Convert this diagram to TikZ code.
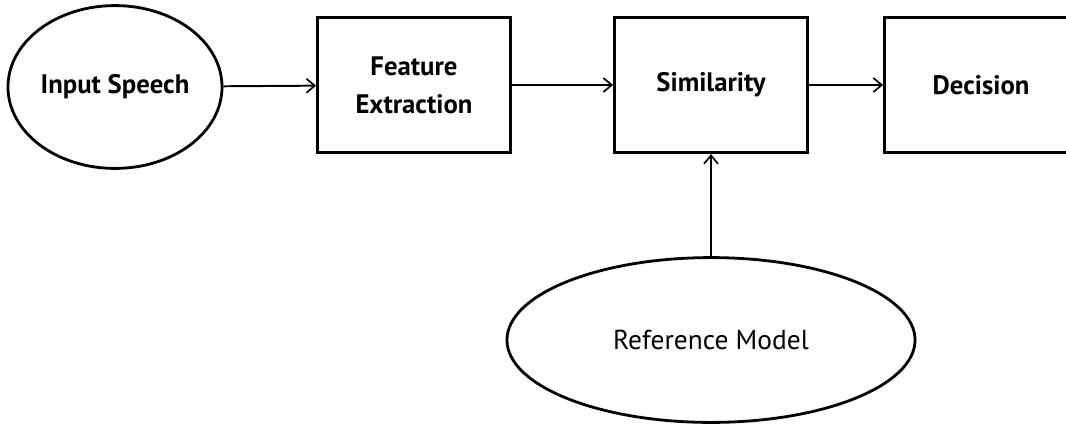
\documentclass[tikz,border=0pt]{standalone}
\usepackage{fontspec}
\setmainfont{PT Sans}
\usetikzlibrary{shapes.geometric,arrows.meta}
\begin{document}
\begin{tikzpicture}[x=0.025cm,y=-0.025cm,
    >={Straight Barb[length=6pt,width=10pt,line width=1.2pt]},
    blockbox/.style={draw,line width=2.1pt,minimum width=4.82cm,minimum height=3.38cm,font=\fontsize{19}{27}\selectfont\bfseries,align=center},
    roundbox/.style={draw,ellipse,line width=2pt,inner sep=0pt},
    flow/.style={->,line width=1.4pt}]
                \useasboundingbox (0,0) rectangle (1066,423);
                \node[roundbox,minimum width=5.35cm,minimum height=4.07cm,font=\fontsize{19}{20}\selectfont\bfseries] (speech) at (115,87) {Input Speech};
                \node[blockbox] (feature) at (414,85) {Feature\\Extraction};
                \node[blockbox] (similar) at (711,85) {Similarity};
                \node[blockbox] (decide) at (981,85) {Decision};
                \node[roundbox,minimum width=10.2cm,minimum height=4.12cm,font=\fontsize{19.5}{20}\selectfont] (refmodel) at (711,340) {Reference Model};
                \draw[flow] (speech) -- (feature);
                \draw[flow] (feature) -- (similar);
                \draw[flow] (similar) -- (decide);
                \draw[flow] (refmodel) -- (similar);
            \end{tikzpicture}
\end{document}
